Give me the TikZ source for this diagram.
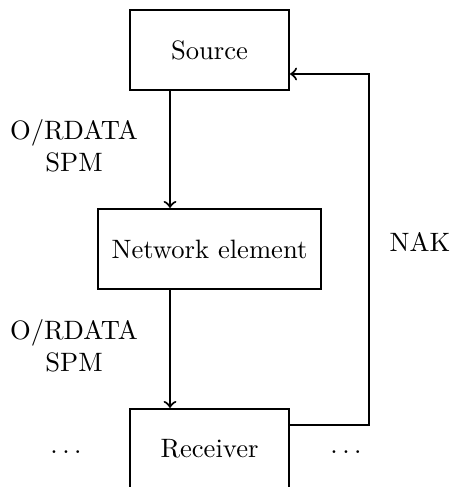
\documentclass[tikz,border=0pt]{standalone}
\usetikzlibrary{calc}
\begin{document}
\begin{tikzpicture}[x=0.376pt,y=-0.376pt,
  box/.style={draw,line width=0.8pt,minimum height=30.1pt,inner sep=0pt},
  flow/.style={draw,line width=0.8pt,->},
  lbl/.style={align=center,inner sep=0pt}]
  \useasboundingbox (0,0) rectangle (454,487);
  % stations
  \node[box,minimum width=59.8pt] (src) at (209.5,50) {Source};
  \node[box,minimum width=83.8pt] (net) at (209.5,249) {Network element};
  \node[box,minimum width=59.8pt] (rec) at (209.5,449) {Receiver};
  % data path
  \draw[flow] ($(src.south)+(-39.5,0)$) -- ($(net.north)+(-39.5,0)$);
  \draw[flow] ($(net.south)+(-39.5,0)$) -- ($(rec.north)+(-39.5,0)$);
  % NAK feedback path
  \coordinate (turn) at (369,425);
  \draw[flow] ($(rec.east)+(0,-24)$) -- (turn) |- ($(src.east)+(0,24)$);
  % labels
  \node[lbl] (l1) at (74,146) {O/RDATA\\SPM};
  \node[lbl] (l2) at (74,346) {O/RDATA\\SPM};
  \node[lbl] (nak) at (420,242) {NAK};
  \node[lbl] (dl) at (66,452) {$\dots$};
  \node[lbl] (dr) at (346,452) {$\dots$};
\end{tikzpicture}
\end{document}
